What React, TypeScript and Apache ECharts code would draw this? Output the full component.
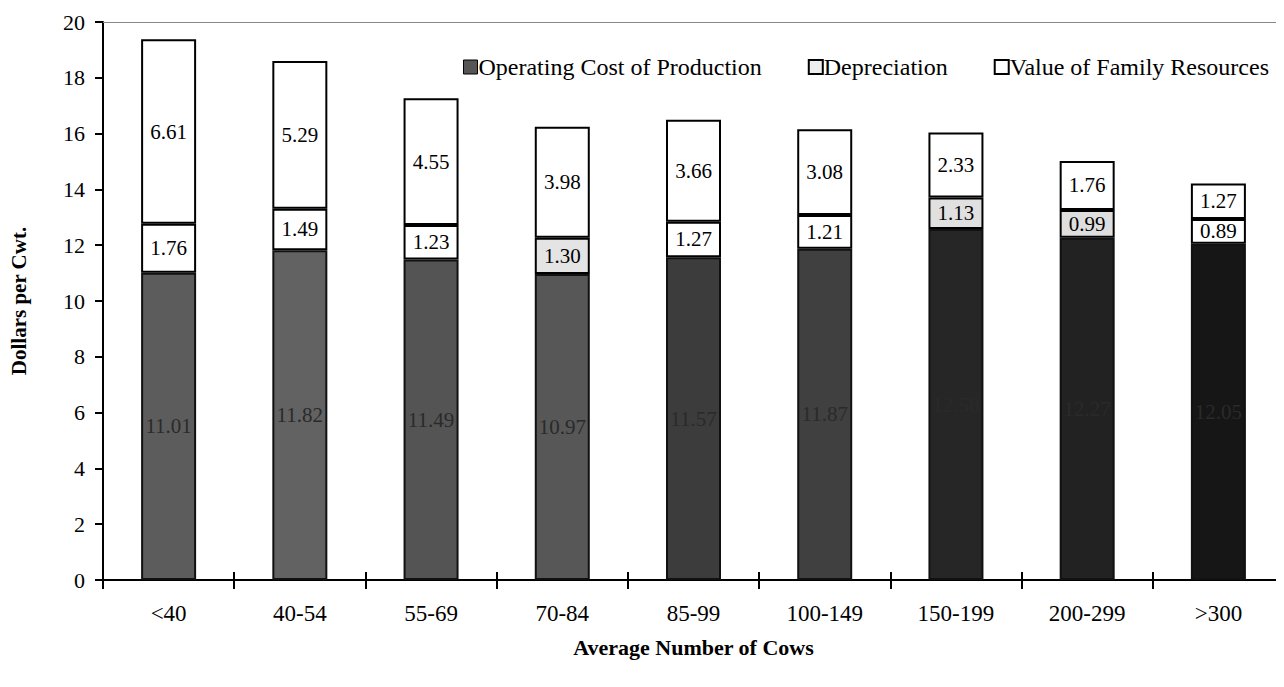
import React, { useEffect, useRef } from "react";
import * as echarts from "echarts";

const categories = ["<40", "40-54", "55-69", "70-84", "85-99", "100-149", "150-199", "200-299", ">300"];
const operatingCost = [11.01, 11.82, 11.49, 10.97, 11.57, 11.87, 12.58, 12.27, 12.05];
const depreciation = [1.76, 1.49, 1.23, 1.3, 1.27, 1.21, 1.13, 0.99, 0.89];
const familyResources = [6.61, 5.29, 4.55, 3.98, 3.66, 3.08, 2.33, 1.76, 1.27];
const yTicks = [0, 20, 2];

const opColors = ["#5c5c5c", "#626262", "#545454", "#575757", "#3c3c3c", "#404040", "#262626", "#222222", "#161616"];
const depColors = ["#ffffff", "#ffffff", "#ffffff", "#e4e4e4", "#ffffff", "#ffffff", "#e0e0e0", "#dedede", "#ffffff"];

const FONT = "Liberation Serif";

export default function App() {
  const ref = useRef<HTMLDivElement>(null);
  useEffect(() => {
    if (!ref.current) return;
    const chart = echarts.init(ref.current, undefined, { renderer: "svg" });
    const lbl = (color: string) => ({
      show: true,
      position: "inside" as const,
      fontFamily: FONT,
      fontSize: 21,
      color,
      formatter: (p: any) => Number(p.value).toFixed(2),
    });
    chart.setOption({
      animation: false,
      textStyle: { fontFamily: FONT },
      grid: { left: 97, right: -2, top: 22, bottom: 107, containLabel: false },
      legend: {
        right: 10,
        top: 50,
        icon: "rect",
        itemWidth: 14,
        itemHeight: 14,
        itemGap: 46,
        textStyle: { fontFamily: FONT, fontSize: 24, color: "#000", padding: [0, 0, 0, -4] },
        data: [
          { name: "Operating Cost of Production", itemStyle: { color: "#555", borderColor: "#000", borderWidth: 1 } },
          { name: "Depreciation", itemStyle: { color: "#eee", borderColor: "#000", borderWidth: 2 } },
          { name: "Value of Family Resources", itemStyle: { color: "#fff", borderColor: "#000", borderWidth: 2 } },
        ],
      },
      xAxis: [
        {
          type: "category",
          data: categories,
          position: "bottom",
          axisLine: { lineStyle: { color: "#000", width: 2 } },
          axisTick: { show: true, length: 9, lineStyle: { color: "#000", width: 2 } },
          axisLabel: { fontFamily: FONT, fontSize: 23, color: "#000", margin: 22 },
          name: "Average Number of Cows",
          nameLocation: "middle",
          nameGap: 56,
          nameTextStyle: { fontFamily: FONT, fontSize: 22, fontWeight: "bold", color: "#000" },
        },
        {
          type: "category",
          data: categories,
          position: "bottom",
          axisLine: { show: false },
          axisTick: { show: true, inside: true, length: 8, lineStyle: { color: "#000", width: 2 } },
          axisLabel: { show: false },
        },
        {
          type: "category",
          data: categories,
          position: "top",
          axisLine: { show: true, lineStyle: { color: "#888", width: 1 } },
          axisTick: { show: false },
          axisLabel: { show: false },
        },
      ],
      yAxis: [
        {
          type: "value",
          min: yTicks[0],
          max: yTicks[1],
          interval: yTicks[2],
          axisLine: { show: true, lineStyle: { color: "#000", width: 2 } },
          axisTick: { show: true, length: 8, lineStyle: { color: "#000", width: 2 } },
          axisLabel: { fontFamily: FONT, fontSize: 22, color: "#000", margin: 18 },
          splitLine: { show: false },
          name: "Dollars per Cwt.",
          nameLocation: "middle",
          nameGap: 74,
          nameTextStyle: { fontFamily: FONT, fontSize: 21, fontWeight: "bold", color: "#000" },
        },
        {
          type: "value",
          min: yTicks[0],
          max: yTicks[1],
          interval: yTicks[2],
          axisLine: { show: false },
          axisTick: { show: true, inside: true, length: 8, lineStyle: { color: "#000", width: 2 } },
          axisLabel: { show: false },
          splitLine: { show: false },
        },
      ],
      series: [
        {
          name: "Operating Cost of Production",
          type: "bar",
          stack: "total",
          barWidth: 55,
          data: operatingCost.map((v, i) => ({ value: v, itemStyle: { color: opColors[i] } })),
          itemStyle: { borderColor: "#111", borderWidth: 2 },
          label: lbl("#2a2a2a"),
        },
        {
          name: "Depreciation",
          type: "bar",
          stack: "total",
          barWidth: 55,
          data: depreciation.map((v, i) => ({ value: v, itemStyle: { color: depColors[i] } })),
          itemStyle: { borderColor: "#000", borderWidth: 2 },
          label: lbl("#000"),
        },
        {
          name: "Value of Family Resources",
          type: "bar",
          stack: "total",
          barWidth: 55,
          data: familyResources,
          itemStyle: { color: "#fff", borderColor: "#000", borderWidth: 2 },
          label: lbl("#000"),
        },
      ],
    });
    return () => chart.dispose();
  }, []);
  return <div ref={ref} style={{ width: 1284, height: 687, margin: -8 }} />;
}
